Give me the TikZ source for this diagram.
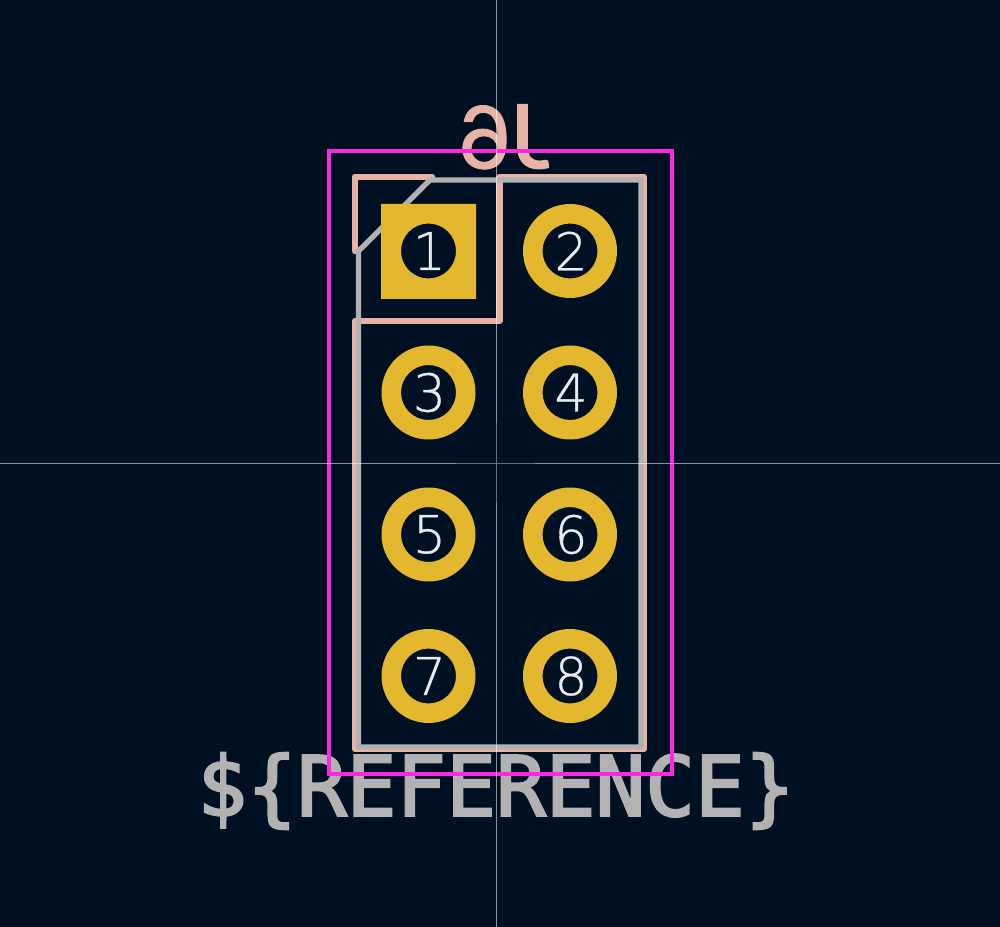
\documentclass[tikz,border=0pt]{standalone}
\usepackage{fontspec}
\setmainfont[AutoFakeBold=0.7]{DejaVu Sans ExtraLight}
\newfontfamily\refmono[AutoFakeBold=2.8]{DejaVu Sans Mono}
\newfontfamily\topfont[AutoFakeBold=2]{Lato}
\newfontfamily\sixfont[AutoFakeBold=1]{TeX Gyre Heros}
\definecolor{boardbg}{HTML}{001023}
\definecolor{padgold}{HTML}{E3B72E}
\definecolor{silkpink}{HTML}{E8B2A7}
\definecolor{fabgray}{HTML}{B2B2B2}
\definecolor{courtmag}{HTML}{FF26E2}
\definecolor{padtext}{HTML}{E6ECF2}
\tikzset{
  px/.style={x=0.75pt,y=-0.75pt},
  silk/.style={draw=silkpink,line width=4.8pt,line cap=round,line join=round},
  fab/.style={draw=fabgray,line width=4pt,line cap=round,line join=round},
  court/.style={draw=courtmag,line width=2.4pt},
  cross/.style={draw=white,line width=0.75pt,opacity=0.55},
  crosscore/.style={draw=black,line width=0.75pt,opacity=0.25},
  padnum/.style={text=padtext,font=\bfseries\fontsize{39}{39}\selectfont,inner sep=0pt},
  bigtext/.style={text=fabgray,font=\refmono\bfseries\fontsize{62}{62}\selectfont,inner sep=0pt},
  toptext/.style={text=silkpink,font=\bfseries\fontsize{66}{66}\selectfont,inner sep=0pt,xscale=-1.05}
}
\newcommand{\roundpad}[4]{%
  \fill[padgold,even odd rule] (#1,#2) circle (47) (#1,#2) circle (27.5);
  \node[padnum] (#4) at (#1+1,#2) {#3};
}
\begin{document}
\begin{tikzpicture}[px]
\path[use as bounding box,fill=boardbg] (0,0) rectangle (1000,927);
% silk
\draw[silk] (355,251) -- (355,177) -- (432,177);
\draw[silk] (355,749) -- (355,321) -- (499.5,321) -- (499.5,177) -- (644,177) -- (644,749) -- cycle;
\node[toptext] (ref) at (504,137) {{\topfont J}{\sixfont 6}};
% fab
\draw[fab] (358.5,251) -- (430,180) -- (641,180) -- (641,747) -- (358.5,747) -- cycle;
% pads
\fill[padgold,even odd rule] (381,204) rectangle (476,299) (428.5,251) circle (27.5);
\node[padnum] (p1) at (429.5,251) {1};
\roundpad{570}{251}{2}{p2}
\roundpad{428.5}{392.5}{3}{p3}
\roundpad{570}{392.5}{4}{p4}
\roundpad{428.5}{534.5}{5}{p5}
\roundpad{570}{534.5}{6}{p6}
\roundpad{428.5}{676}{7}{p7}
\roundpad{570}{676}{8}{p8}
% value text
\node[bigtext] (val) at (496,791) {\$\{REFERENCE\}};
% courtyard
\draw[court] (329,151) rectangle (672,774);
% crosshair
\draw[cross] (496,0) -- (496,927);
\draw[cross] (0,463) -- (1000,463);
\draw[crosscore] (496,423) -- (496,502);
\draw[crosscore] (456,463) -- (535,463);
\end{tikzpicture}
\end{document}
